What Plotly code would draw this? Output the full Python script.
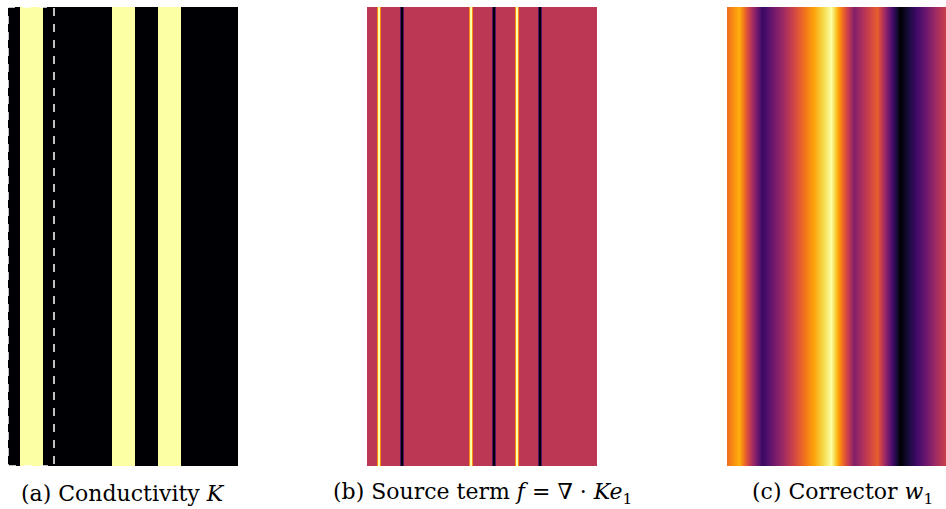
import numpy as np
import plotly.graph_objects as go

# ---- data -------------------------------------------------------------
# Layered medium on [0, 1] x [0, 2]: bright inclusions in a dark matrix
stripe_left = [0.05, 0.45, 0.65]
stripe_right = [0.15, 0.55, 0.75]
k_matrix = 1.0
k_inclusion = 10.0
domain_width = 1.0
domain_height = 2.0
cell_width = 0.2  # periodic cell outlined in panel (a)

# Corrector w1 (normalised), sampled every 0.05 along x
w1_x = [0.00, 0.05, 0.10, 0.15, 0.20, 0.25, 0.30, 0.35, 0.40, 0.45, 0.50,
        0.55, 0.60, 0.65, 0.70, 0.75, 0.80, 0.85, 0.90, 0.95, 1.00]
w1_values = [0.68, 0.82, 0.50, 0.18, 0.31, 0.45, 0.59, 0.73, 0.86, 1.00, 0.68,
             0.36, 0.50, 0.64, 0.32, 0.00, 0.14, 0.27, 0.41, 0.55, 0.68]

captions = [
    "(a) Conductivity <i>K</i>",
    "(b) Source term <i>f</i> = \u2207 \u00b7 <i>Ke</i><sub>1</sub>",
    "(c) Corrector <i>w</i><sub>1</sub>",
]

# ---- derived fields ---------------------------------------------------
# piecewise-constant conductivity: brick edges and values
k_edges = [0.0]
k_vals = []
for a, b in zip(stripe_left, stripe_right):
    k_edges += [a, b]
    k_vals += [k_matrix, k_inclusion]
k_edges.append(domain_width)
k_vals.append(k_matrix)

# source term f = d/dx K on a finite-difference grid
n_grid = 160
xs = (np.arange(n_grid) + 0.5) / n_grid * domain_width
k_grid = np.full(n_grid, k_matrix)
for a, b in zip(stripe_left, stripe_right):
    k_grid[(xs > a) & (xs < b)] = k_inclusion
f_grid = np.gradient(k_grid, xs)
f_max = np.abs(f_grid).max()

inferno = [
    [0.0, "#000004"], [0.1, "#160b39"], [0.2, "#420a68"], [0.3, "#6a176e"],
    [0.4, "#932667"], [0.5, "#bc3754"], [0.6, "#dd513a"], [0.7, "#f37819"],
    [0.8, "#fca50a"], [0.9, "#f6d746"], [1.0, "#fcffa4"],
]

# ---- figure -----------------------------------------------------------
W, H = 946, 509
panel_left = [8, 367, 727]
panel_w = 230
top_px, bottom_px = 7, 466

fig = go.Figure()

fig.add_trace(go.Heatmap(
    x=k_edges, y=[0, domain_height], z=[k_vals],
    colorscale=inferno, zmin=k_matrix, zmax=k_inclusion,
    showscale=False, hoverinfo="skip", xaxis="x", yaxis="y"))

fig.add_trace(go.Heatmap(
    x=xs, y=[0, domain_height], z=[f_grid, f_grid],
    colorscale=inferno, zmin=-f_max, zmax=f_max, zsmooth="best",
    showscale=False, hoverinfo="skip", xaxis="x2", yaxis="y2"))

fig.add_trace(go.Heatmap(
    x=w1_x, y=[0, domain_height], z=[w1_values, w1_values],
    colorscale=inferno, zmin=min(w1_values), zmax=max(w1_values),
    zsmooth="best", showscale=False, hoverinfo="skip",
    xaxis="x3", yaxis="y3"))

y_dom = [1 - bottom_px / H, 1 - top_px / H]
layout_axes = {}
for i, left in enumerate(panel_left):
    sfx = "" if i == 0 else str(i + 1)
    x0 = left / W
    x1 = (left + panel_w) / W
    rng = [0, domain_width]
    if x1 > 1:
        rng = [0, domain_width * (W - left) / panel_w]
        x1 = 1.0
    layout_axes["xaxis" + sfx] = dict(domain=[x0, x1], range=rng, visible=False,
                                      anchor="y" + sfx)
    layout_axes["yaxis" + sfx] = dict(domain=y_dom, range=[0, domain_height],
                                      visible=False, anchor="x" + sfx)
    fig.add_annotation(
        text=captions[i], xref="paper", yref="paper",
        x=(left + panel_w / 2) / W, y=1 - 493 / H,
        xanchor="center", yanchor="middle", showarrow=False,
        font=dict(family="DejaVu Serif", size=22, color="#000000"))

# dashed outline of the periodic cell
fig.add_shape(type="rect", xref="x", yref="y", x0=0, x1=cell_width,
              y0=0, y1=domain_height,
              line=dict(color="white", width=1.5, dash="8px,8px"))

fig.update_layout(
    width=W, height=H, margin=dict(l=0, r=0, t=0, b=0),
    paper_bgcolor="white", plot_bgcolor="white", showlegend=False,
    **layout_axes)

fig.write_html("out.html")
